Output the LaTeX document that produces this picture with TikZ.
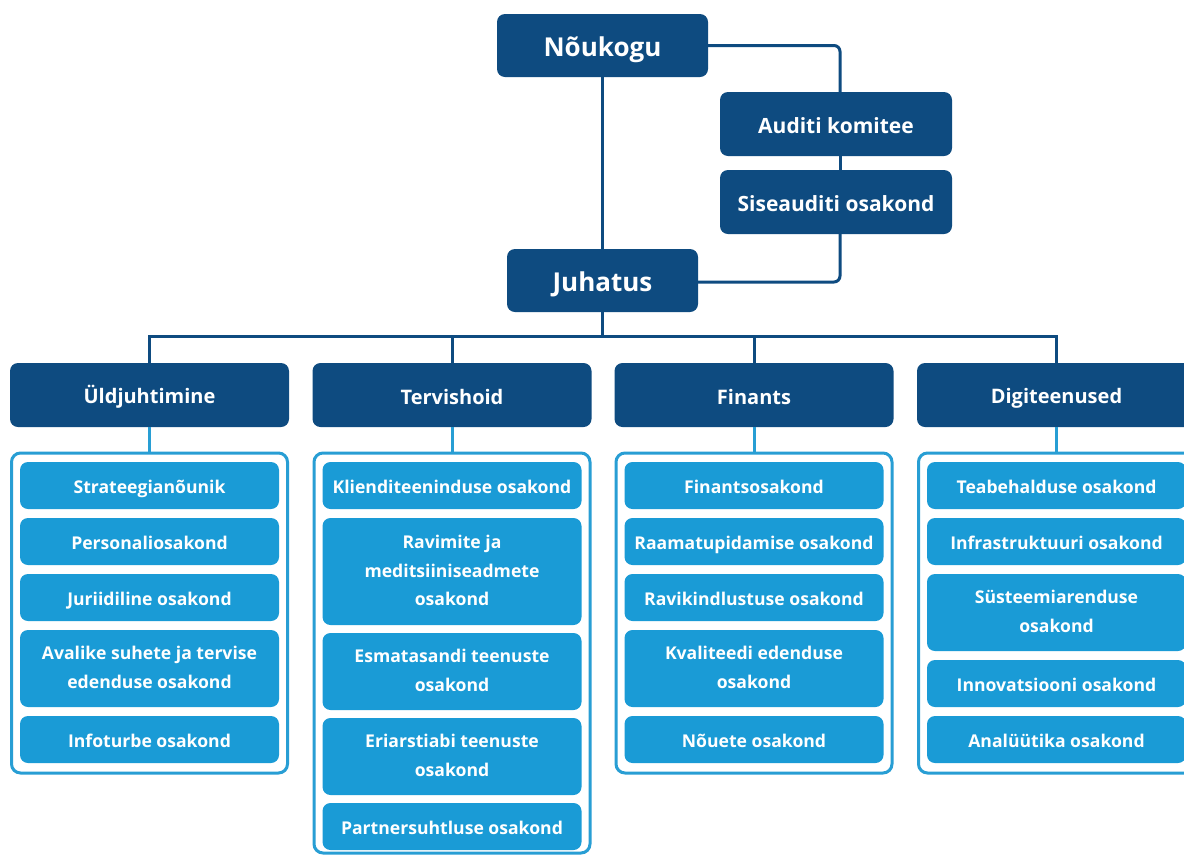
\documentclass[tikz,border=0pt]{standalone}
\usepackage{fontspec}
\setmainfont{Open Sans}
\usepackage{tikz}
\usetikzlibrary{positioning, calc}

\definecolor{boardblue}{RGB}{14, 75, 128}
\definecolor{deptblue}{RGB}{26, 155, 214}
\definecolor{framblue}{RGB}{40, 158, 212}

\newcommand{\topstrut}[1]{\rule{0pt}{#1}}
\newcommand{\botstrut}[1]{\rule[-#1]{0pt}{#1}}
\newcommand{\deptlines}[1]{\raisebox{-1.5pt}{\begin{tabular}{@{}c@{}}#1\end{tabular}}}

\tikzset{
  board/.style={draw=none, fill=boardblue, text=white, rounded corners=8pt, font=\bfseries\fontsize{20}{26}\selectfont, minimum width=279pt, minimum height=64pt, inner sep=0pt, align=center, execute at begin node=\topstrut{22.5pt}, execute at end node=\botstrut{3.1pt}},
  bigboard/.style={board, minimum height=63pt, font=\bfseries\fontsize{26}{34}\selectfont, execute at begin node=\topstrut{27.5pt}, execute at end node=\botstrut{3.9pt}},
  midboard/.style={board, minimum width=232pt, font=\bfseries\fontsize{21}{27}\selectfont, execute at begin node=\topstrut{21pt}, execute at end node=\botstrut{3.2pt}},
  dept/.style={draw=none, fill=deptblue, text=white, rounded corners=8pt, font=\bfseries\fontsize{17.6}{28.7}\selectfont, minimum width=259pt, minimum height=47pt, inner sep=0pt, align=center, execute at begin node=\topstrut{21.6pt}, execute at end node=\botstrut{6.4pt}},
  frame/.style={draw=framblue, line width=3pt, fill=white, rounded corners=9pt, minimum width=276pt, inner sep=0pt},
  link/.style={draw=boardblue, line width=3pt},
  sublink/.style={draw=framblue, line width=3pt}
}

\begin{document}
\begin{tikzpicture}[x=1pt, y=-1pt]
  \useasboundingbox[fill=white] (0,0) rectangle (1184,855);
  \clip (0,0) rectangle (1184,855);

  % Top
  \node[bigboard, minimum width=211pt] (noukogu) at (602.5, 45.5) {Nõukogu};
  \node[midboard] (auditi) at (836, 124) {Auditi komitee};
  \node[midboard] (sise) at (836, 202) {Siseauditi osakond};
  \node[bigboard, minimum width=191pt] (juhatus) at (602.5, 280.5) {Juhatus};
  \draw[link] (noukogu) -- (juhatus);
  \draw[link, rounded corners=6pt] (noukogu.east) -| ([xshift=4pt]auditi.north);
  \draw[link] ([xshift=4pt]auditi.south) -- ([xshift=4pt]sise.north);
  \draw[link, rounded corners=6pt] ([xshift=4pt]sise.south) |- ([yshift=-1.5pt]juhatus.east);

  % Level 2
  \node[board] (uld) at (149.5, 395) {Üldjuhtimine};
  \node[board] (terv) at (452, 395) {Tervishoid};
  \node[board] (fin) at (754, 395) {Finants};
  \node[board] (dig) at (1056.5, 395) {Digiteenused};
  \draw[link] (juhatus.south) -- ++(0, 25);
  \draw[link] (uld.north) -- ++(0, -26) -| (dig.north);
  \draw[link] (terv.north) -- ++(0, -26);
  \draw[link] (fin.north) -- ++(0, -26);

  % Frames
  \node[frame, minimum height=320pt] (uldf) at (149.5, 613) {};
  \node[frame, minimum height=400pt] (tervf) at (452, 653) {};
  \node[frame, minimum height=320pt] (finf) at (754, 613) {};
  \node[frame, minimum height=320pt] (digf) at (1056.5, 613) {};
  \draw[sublink] (uld.south) -- (uldf.north);
  \draw[sublink] (terv.south) -- (tervf.north);
  \draw[sublink] (fin.south) -- (finf.north);
  \draw[sublink] (dig.south) -- (digf.north);

  % Üldjuhtimine
  \node[dept] (u1) at (149.5, 485.5) {Strateegianõunik};
  \node[dept] (u2) at (149.5, 541.5) {Personaliosakond};
  \node[dept] (u3) at (149.5, 597.5) {Juriidiline osakond};
  \node[dept, minimum height=77pt] (u4) at (149.5, 668.5) {\deptlines{Avalike suhete ja tervise\\edenduse osakond}};
  \node[dept] (u5) at (149.5, 739.5) {Infoturbe osakond};

  % Tervishoid
  \node[dept] (t1) at (452, 485.5) {Klienditeeninduse osakond};
  \node[dept, minimum height=107pt] (t2) at (452, 571.5) {\deptlines{Ravimite ja\\meditsiiniseadmete\\osakond}};
  \node[dept, minimum height=77pt] (t3) at (452, 671.5) {\deptlines{Esmatasandi teenuste\\osakond}};
  \node[dept, minimum height=77pt] (t4) at (452, 756.5) {\deptlines{Eriarstiabi teenuste\\osakond}};
  \node[dept] (t5) at (452, 826.5) {Partnersuhtluse osakond};

  % Finants
  \node[dept] (f1) at (754, 485.5) {Finantsosakond};
  \node[dept] (f2) at (754, 541.5) {Raamatupidamise osakond};
  \node[dept] (f3) at (754, 597.5) {Ravikindlustuse osakond};
  \node[dept, minimum height=77pt] (f4) at (754, 668.5) {\deptlines{Kvaliteedi edenduse\\osakond}};
  \node[dept] (f5) at (754, 739.5) {Nõuete osakond};

  % Digiteenused
  \node[dept] (d1) at (1056.5, 485.5) {Teabehalduse osakond};
  \node[dept] (d2) at (1056.5, 541.5) {Infrastruktuuri osakond};
  \node[dept, minimum height=77pt] (d3) at (1056.5, 612.5) {\deptlines{Süsteemiarenduse\\osakond}};
  \node[dept] (d4) at (1056.5, 683.5) {Innovatsiooni osakond};
  \node[dept] (d5) at (1056.5, 739.5) {Analüütika osakond};
\end{tikzpicture}
\end{document}
